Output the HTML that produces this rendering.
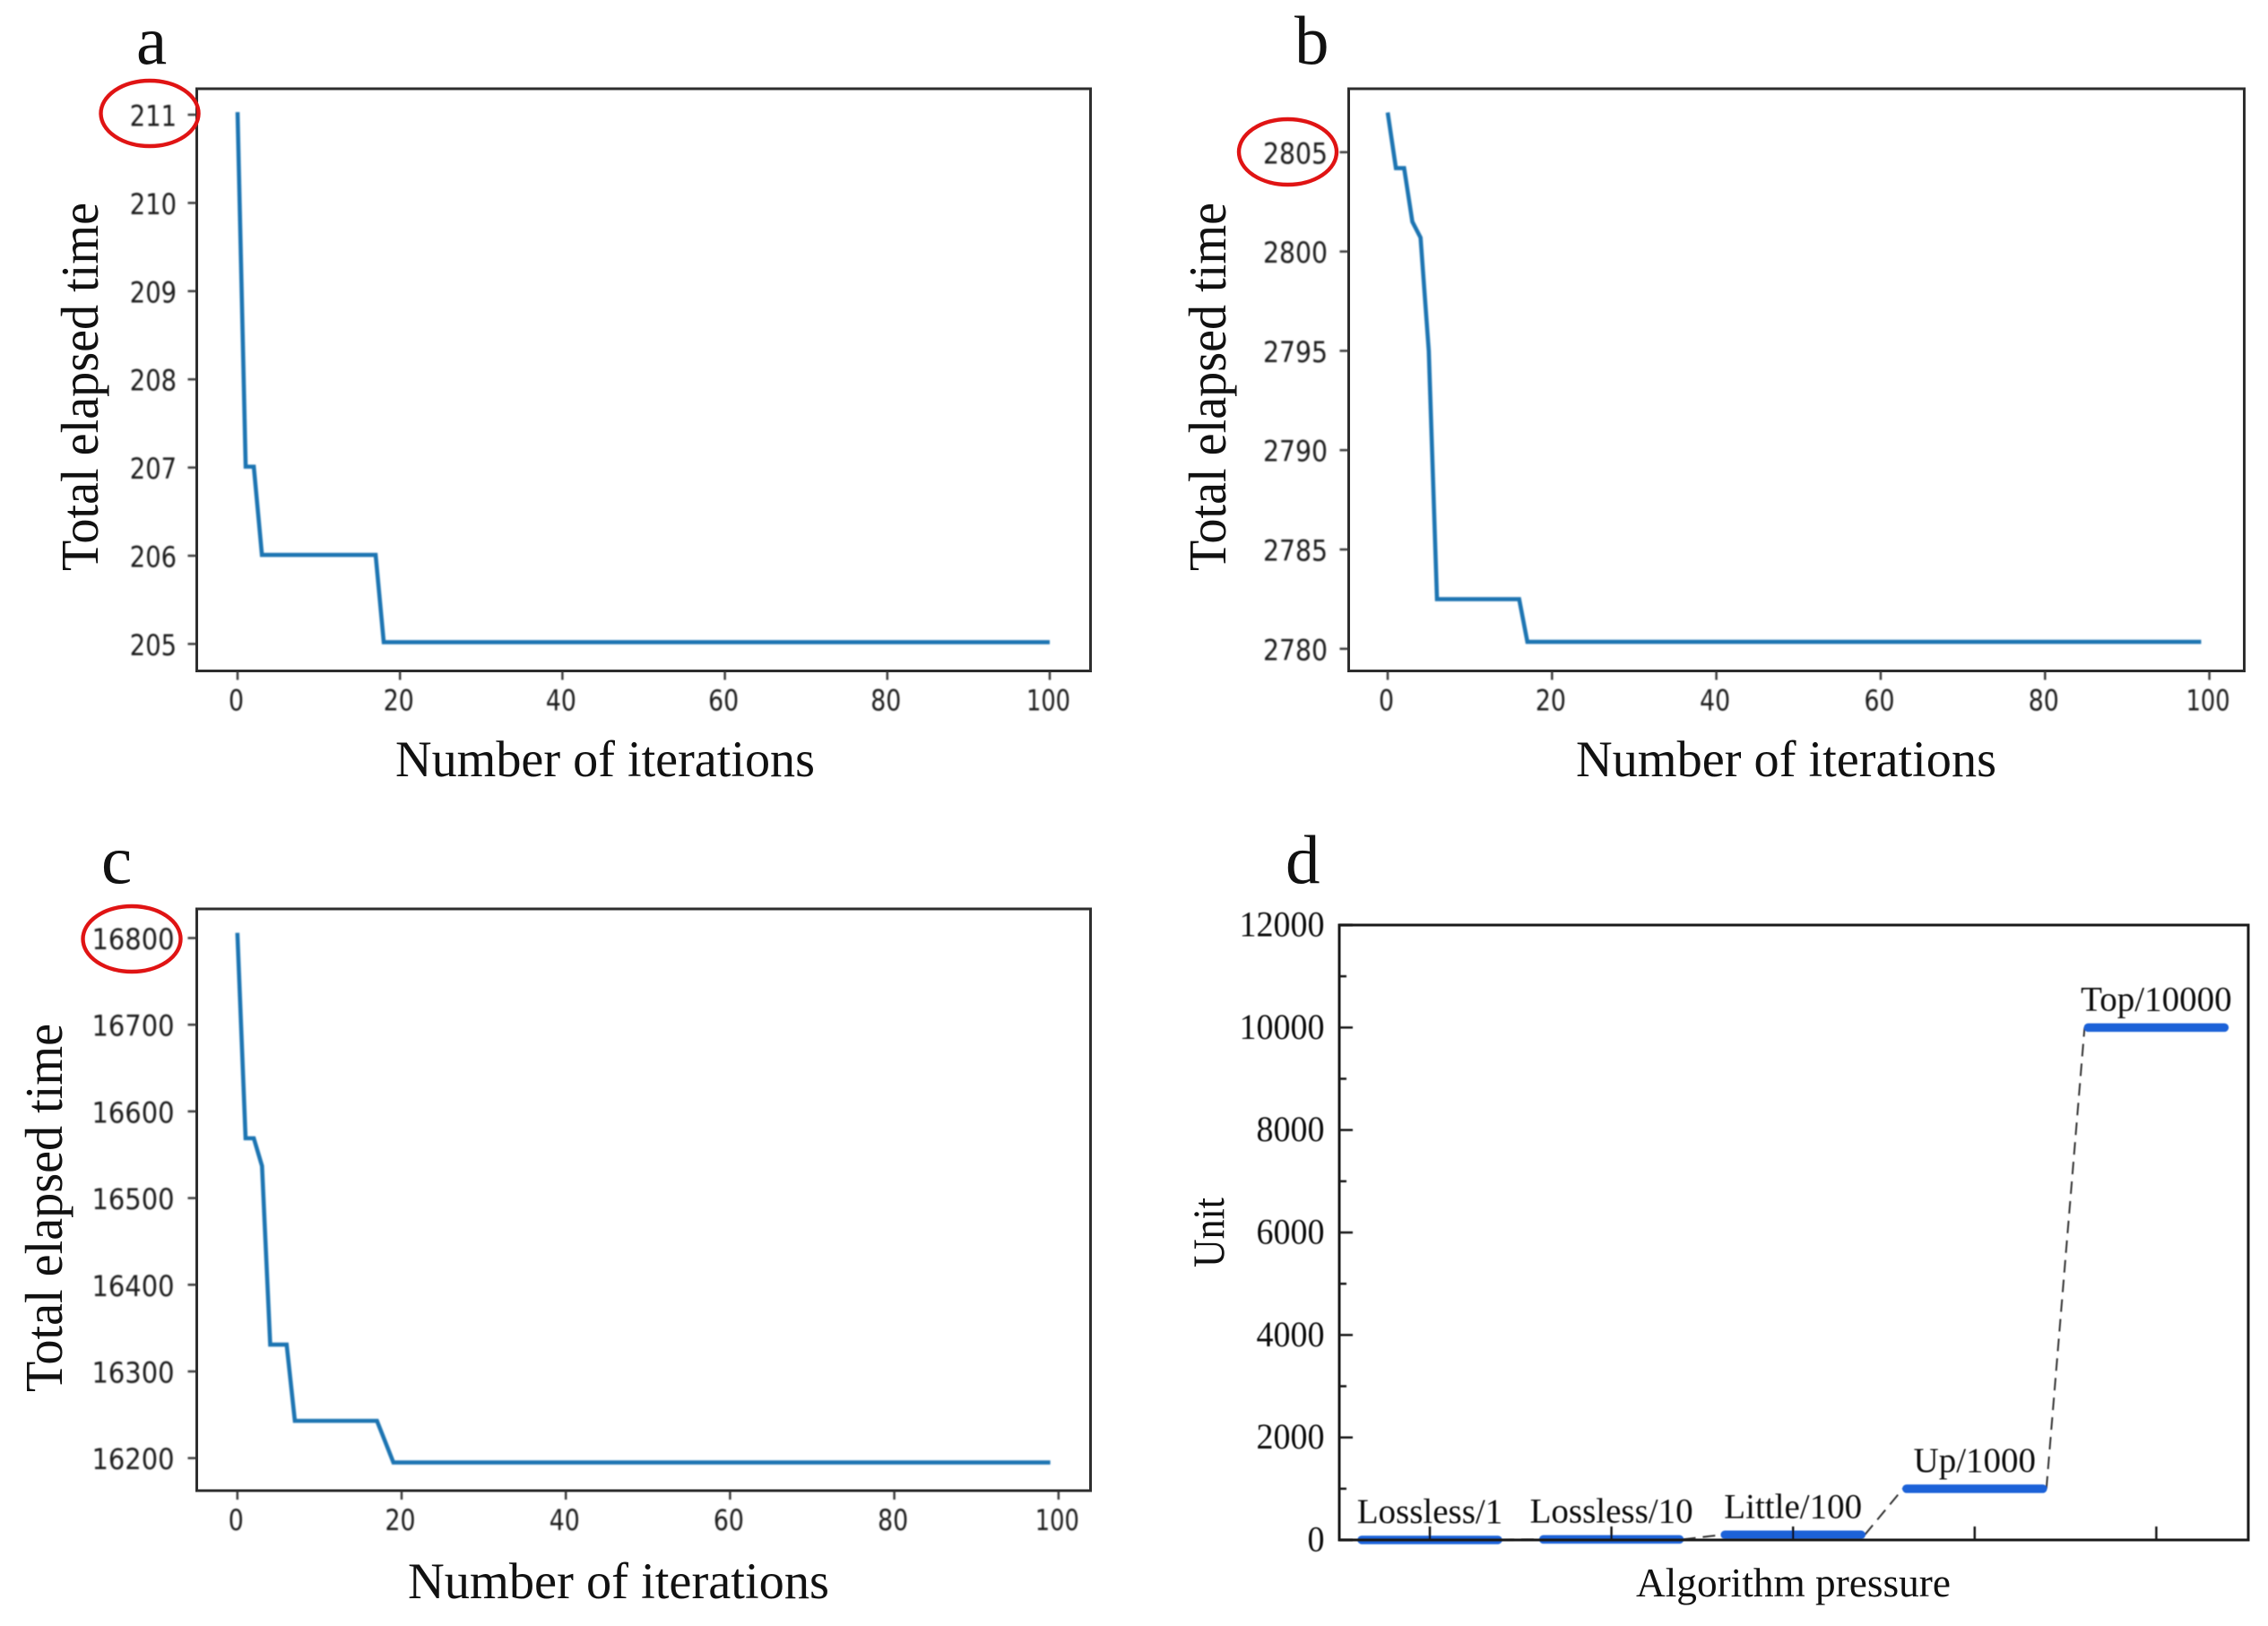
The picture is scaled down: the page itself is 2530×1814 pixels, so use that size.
<!DOCTYPE html>
<html lang="en">
<head>
<meta charset="utf-8">
<title>Total elapsed time versus iterations and algorithm pressure</title>
<style>
  html, body { margin: 0; padding: 0; background: #fff; }
  svg { display: block; }
  .serif { font-family: "Liberation Serif", "Times New Roman", serif; fill: #111; }
  .sans { font-family: "DejaVu Sans", "Liberation Sans", sans-serif; fill: #1c1c1c; }
</style>
</head>
<body>
<svg id="figure" xmlns="http://www.w3.org/2000/svg" width="2530" height="1814" viewBox="0 0 2530 1814">
  <defs>
    <filter id="soft" x="-5%" y="-5%" width="110%" height="110%"><feGaussianBlur stdDeviation="0.7"/></filter>
    <filter id="softer" x="-5%" y="-5%" width="110%" height="110%"><feGaussianBlur stdDeviation="0.4"/></filter>
  </defs>
  <rect x="0" y="0" width="2530" height="1814" fill="#fff"/>

  <text class="serif" x="152" y="71" font-size="77">a</text>
  <text class="serif" x="1444" y="71" font-size="77">b</text>
  <text class="serif" x="113" y="985" font-size="77">c</text>
  <text class="serif" x="1434" y="985" font-size="77">d</text>

  <text class="serif" font-size="59" textLength="411" lengthAdjust="spacingAndGlyphs" transform="translate(109 637) rotate(-90)">Total elapsed time</text>
  <text class="serif" font-size="59" textLength="411" lengthAdjust="spacingAndGlyphs" transform="translate(1367 637) rotate(-90)">Total elapsed time</text>
  <text class="serif" font-size="59" textLength="411" lengthAdjust="spacingAndGlyphs" transform="translate(69 1553) rotate(-90)">Total elapsed time</text>
  <text class="serif" font-size="50" textLength="78" lengthAdjust="spacingAndGlyphs" transform="translate(1365 1414) rotate(-90)">Unit</text>

  <text class="serif" x="441" y="866" font-size="57" textLength="468" lengthAdjust="spacingAndGlyphs">Number of iterations</text>
  <text class="serif" x="1758" y="866" font-size="57" textLength="469" lengthAdjust="spacingAndGlyphs">Number of iterations</text>
  <text class="serif" x="455" y="1783" font-size="57" textLength="470" lengthAdjust="spacingAndGlyphs">Number of iterations</text>
  <text class="serif" x="1825" y="1781" font-size="46" textLength="351" lengthAdjust="spacingAndGlyphs">Algorithm pressure</text>

  <g id="panel-a"></g>
  <g id="panel-b"></g>
  <g id="panel-c"></g>
  <g id="panel-d"></g>

  <ellipse cx="167" cy="126.5" rx="54.5" ry="36.5" fill="none" stroke="#e01414" stroke-width="4.4"/>
  <ellipse cx="1436.5" cy="169.5" rx="54.5" ry="36.5" fill="none" stroke="#e01414" stroke-width="4.4"/>
  <ellipse cx="147" cy="1047.5" rx="54.5" ry="36.5" fill="none" stroke="#e01414" stroke-width="4.4"/>
</svg>

<script>
// Shared x axis ticks for the convergence panels
const iterationTicks = [0, 20, 40, 60, 80, 100];

// Panel a: vertices of the convergence curve
const aIterations = [0, 1, 2, 3, 17, 18, 100];
const aElapsed = [211.03, 207.01, 207.01, 206.01, 206.01, 205.02, 205.02];
const aYTicks = [205, 206, 207, 208, 209, 210, 211];

// Panel b: vertices of the convergence curve
const bIterations = [0, 1, 2, 3, 4, 5, 6, 16, 17, 99];
const bElapsed = [2807, 2804.2, 2804.2, 2801.5, 2800.7, 2795, 2782.5, 2782.5, 2780.35, 2780.35];
const bYTicks = [2780, 2785, 2790, 2795, 2800, 2805];

// Panel c: vertices of the convergence curve
const cIterations = [0, 1, 2, 3, 4, 6, 7, 17, 18, 19, 99];
const cElapsed = [16806, 16569, 16569, 16537, 16331, 16331, 16243, 16243, 16219, 16195, 16195];
const cYTicks = [16200, 16300, 16400, 16500, 16600, 16700, 16800];

// Panel d: compression levels
const dCategories = ['Lossless/1', 'Lossless/10', 'Little/100', 'Up/1000', 'Top/10000'];
const dUnits = [1, 10, 100, 1000, 10000];
const dYTicks = [0, 2000, 4000, 6000, 8000, 10000, 12000];
const dYMinorTicks = [1000, 3000, 5000, 7000, 9000, 11000];

const NS = 'http://www.w3.org/2000/svg';

function make(tag, attrs, parent) {
  const el = document.createElementNS(NS, tag);
  for (const k in attrs) el.setAttribute(k, attrs[k]);
  parent.appendChild(el);
  return el;
}

function drawConvergence(id, box, xAxis, yAxis, xTicks, yTicks, xs, ys, digitW, labelGap) {
  const root = document.getElementById(id);
  const soft = make('g', { filter: 'url(#soft)' }, root);
  
  

  xTicks.forEach(function (t) {
    const px = xAxis(t);
    const tick = make('line', { x1: px, x2: px, y1: box.bottom, y2: box.bottom + 10, stroke: '#333', 'stroke-width': 2.4 }, soft);
    
    
    const s = String(t);
    const len = s.length === 3 ? 49 : s.length * 17;
    const label = make('text', { class: 'sans', x: px - len / 2 - 1.5, y: box.bottom + 44, 'font-size': 32, textLength: len, lengthAdjust: 'spacingAndGlyphs' }, soft);
    label.textContent = s;
    
    
  });

  yTicks.forEach(function (t) {
    const py = yAxis(t);
    const tick = make('line', { x1: box.left - 10, x2: box.left, y1: py, y2: py, stroke: '#333', 'stroke-width': 2.4 }, soft);
    
    
    const s = String(t);
    const len = s.length * digitW;
    const label = make('text', { class: 'sans', x: box.left - labelGap - len, y: py + 12.5, 'font-size': 32, textLength: len, lengthAdjust: 'spacingAndGlyphs' }, soft);
    label.textContent = s;
    
    
  });

  const d = xs.map(function (x, i) { return xAxis(x).toFixed(2) + ',' + yAxis(ys[i]).toFixed(2); }).join(' ');
  const line = make('polyline', { points: d, fill: 'none', stroke: '#1f74b2', 'stroke-width': 4.6, 'stroke-linejoin': 'miter' }, soft);
  
  

  const frame = make('rect', { x: box.left, y: box.top, width: box.right - box.left, height: box.bottom - box.top, fill: 'none', stroke: '#2e2e2e', 'stroke-width': 3 }, root);
  
  
}

drawConvergence('panel-a',
  { left: 219.5, right: 1216.5, top: 99, bottom: 748.5 },
  function (v) { return 265 + 9.06 * v; },
  function (v) { return 128 + 98.4 * (211 - v); },
  iterationTicks, aYTicks, aIterations, aElapsed, 17.4, 22.5);

drawConvergence('panel-b',
  { left: 1504.5, right: 2503.5, top: 99, bottom: 748.5 },
  function (v) { return 1548 + 9.166 * v; },
  function (v) { return 723.8 - 22.16 * (v - 2780); },
  iterationTicks, bYTicks, bIterations, bElapsed, 18, 23.5);

drawConvergence('panel-c',
  { left: 219.5, right: 1216.5, top: 1014, bottom: 1663 },
  function (v) { return 264.8 + 9.16 * v; },
  function (v) { return 1626.7 - 0.967 * (v - 16200); },
  iterationTicks, cYTicks, cIterations, cElapsed, 18.4, 25);

(function drawPanelD() {
  const root = document.getElementById('panel-d');
  const box = { left: 1494, right: 2508, top: 1032, bottom: 1718 };
  const xAxis = function (i) { return 1595 + 202.6 * i; };
  const yAxis = function (v) { return 1718 - (686 / 12000) * v; };
  const halfWidth = 80;

  const soft = make('g', { filter: 'url(#softer)' }, root);
  
  

  dUnits.forEach(function (v, i) {
    if (i === dUnits.length - 1) return;
    const link = make('line', {
      x1: xAxis(i) + halfWidth, y1: yAxis(v),
      x2: xAxis(i + 1) - halfWidth, y2: yAxis(dUnits[i + 1]),
      stroke: '#333', 'stroke-width': 2, 'stroke-dasharray': '14 8'
    }, soft);
    
    
  });

  dUnits.forEach(function (v, i) {
    const bar = make('line', {
      x1: xAxis(i) - halfWidth + 4, x2: xAxis(i) + halfWidth - 4,
      y1: yAxis(v), y2: yAxis(v),
      stroke: '#1a62d8', 'stroke-width': 9.5, 'stroke-linecap': 'round'
    }, soft);
    
    
    const label = make('text', { class: 'serif', x: xAxis(i), y: yAxis(v) - 19, 'font-size': 39, 'text-anchor': 'middle' }, soft);
    label.textContent = dCategories[i];
    
    
  });

  dCategories.forEach(function (c, i) {
    const tick = make('line', { x1: xAxis(i), x2: xAxis(i), y1: box.bottom, y2: box.bottom - 15, stroke: '#111', 'stroke-width': 2.4 }, soft);
    
    
  });

  dYTicks.forEach(function (t) {
    const py = yAxis(t);
    const tick = make('line', { x1: box.left, x2: box.left + 15, y1: py, y2: py, stroke: '#111', 'stroke-width': 2.4 }, soft);
    
    
    const s = String(t);
    const len = s.length * 19;
    const label = make('text', { class: 'serif', x: 1477.5 - len, y: py + 12.5, 'font-size': 40, textLength: len, lengthAdjust: 'spacingAndGlyphs' }, soft);
    label.textContent = s;
    
    
  });

  dYMinorTicks.forEach(function (t) {
    const py = yAxis(t);
    const tick = make('line', { x1: box.left, x2: box.left + 8, y1: py, y2: py, stroke: '#111', 'stroke-width': 2.4 }, soft);
    
    
  });

  const frame = make('rect', { x: box.left, y: box.top, width: box.right - box.left, height: box.bottom - box.top, fill: 'none', stroke: '#1a1a1a', 'stroke-width': 3 }, root);
  
  
})();
</script>
</body>
</html>
